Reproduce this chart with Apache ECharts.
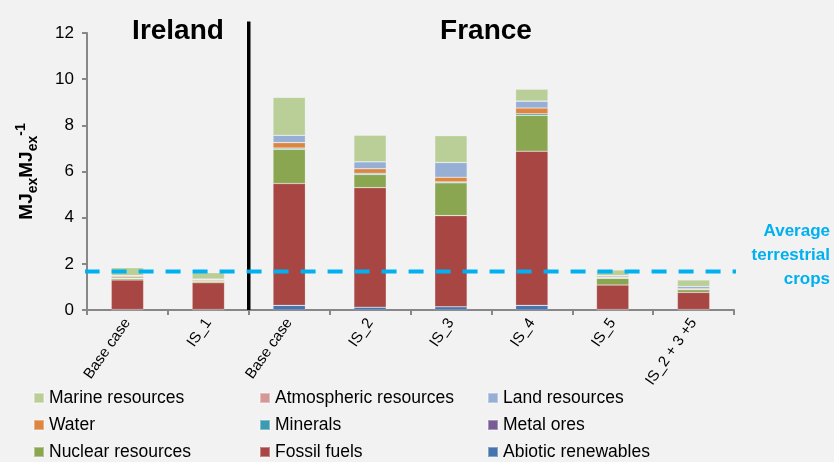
<!DOCTYPE html>
<html>
<head>
<meta charset="utf-8">
<script src="https://cdn.jsdelivr.net/npm/echarts@6/dist/echarts.min.js"></script>
<style>
html,body{margin:0;padding:0;background:#F2F2F2;}
#chart{width:834px;height:462px;}
</style>
</head>
<body>
<div id="chart"></div>
<script>
// ---- data (stack order bottom to top) ----
var categories = ['Base case', 'IS_1', 'Base case', 'IS_2', 'IS_3', 'IS_4', 'IS_5', 'IS_2 + 3 +5'];
var abioticRenewables = [0.02, 0.02, 0.20, 0.12, 0.14, 0.20, 0.02, 0.02];
var fossilFuels       = [1.28, 1.16, 5.28, 5.18, 3.95, 6.68, 1.06, 0.74];
var nuclearResources  = [0.07, 0.07, 1.49, 0.57, 1.42, 1.56, 0.30, 0.12];
var metalOres         = [0.00, 0.00, 0.00, 0.00, 0.00, 0.00, 0.00, 0.00];
var minerals          = [0.01, 0.01, 0.05, 0.05, 0.04, 0.06, 0.01, 0.01];
var water             = [0.06, 0.05, 0.23, 0.20, 0.20, 0.25, 0.04, 0.03];
var landResources     = [0.05, 0.03, 0.32, 0.30, 0.64, 0.30, 0.06, 0.10];
var atmosphericResources = [0.00, 0.00, 0.00, 0.00, 0.00, 0.00, 0.00, 0.00];
var marineResources   = [0.34, 0.28, 1.64, 1.15, 1.16, 0.52, 0.24, 0.28];
var yTicks = [0, 2, 4, 6, 8, 10, 12];
var averageTerrestrialCrops = 1.67;
var regionDivider = 2;        // boundary index between Ireland and France groups
var regionLabels = ['Ireland', 'France'];
var annotationLines = ['Average', 'terrestrial', 'crops'];
// legend layout: rows of names (reading order of the reference legend)
var legendRows = [
  ['Marine resources', 'Atmospheric resources', 'Land resources'],
  ['Water', 'Minerals', 'Metal ores'],
  ['Nuclear resources', 'Fossil fuels', 'Abiotic renewables']
];

var seriesDefs = [
  {name: 'Abiotic renewables', data: abioticRenewables, color: '#4674AE'},
  {name: 'Fossil fuels', data: fossilFuels, color: '#A84643'},
  {name: 'Nuclear resources', data: nuclearResources, color: '#8AA650'},
  {name: 'Metal ores', data: metalOres, color: '#785C98'},
  {name: 'Minerals', data: minerals, color: '#3E9AB0'},
  {name: 'Water', data: water, color: '#DD8641'},
  {name: 'Land resources', data: landResources, color: '#97AED5'},
  {name: 'Atmospheric resources', data: atmosphericResources, color: '#D69896'},
  {name: 'Marine resources', data: marineResources, color: '#BACF97'}
];

var FONT = 'Liberation Sans, Arial, sans-serif';
var chart = echarts.init(document.getElementById('chart'));

var series = seriesDefs.map(function (d) {
  return {
    name: d.name, type: 'bar', stack: 'total', barWidth: '40%',
    data: d.data,
    itemStyle: {color: d.color, borderColor: 'rgba(255,255,255,0.35)', borderWidth: 0.6},
    emphasis: {disabled: true}
  };
});

series.push({
  name: 'divider', type: 'line', xAxisIndex: 1, yAxisIndex: 0,
  data: [[regionDivider, 0], [regionDivider, 12.5]],
  symbol: 'none', clip: false, silent: true,
  lineStyle: {color: '#000', width: 3.5},
  z: 5
});
series.push({
  name: 'avg', type: 'line', xAxisIndex: 1, yAxisIndex: 0,
  data: [[-0.03, averageTerrestrialCrops], [8.05, averageTerrestrialCrops]],
  symbol: 'none', clip: false, silent: true,
  lineStyle: {color: '#00B0F0', width: 4, type: [15, 12]},
  z: 6
});

var colLeft = [33, 259, 487];
var rowTop = [389, 416, 443];
var legends = [];
legendRows.forEach(function (row, r) {
  row.forEach(function (name, c) {
    legends.push({
      left: colLeft[c], top: rowTop[r],
      data: [name], icon: 'rect', itemWidth: 10, itemHeight: 10,
      selectedMode: false, padding: 0,
      textStyle: {fontFamily: FONT, fontSize: 17.5, color: '#000'}
    });
  });
});

var option = {
  backgroundColor: '#F2F2F2',
  animation: false,
  grid: {left: 87, right: 100, top: 33, bottom: 152},
  legend: legends,
  xAxis: [{
    type: 'category', data: categories, boundaryGap: true,
    axisLine: {lineStyle: {color: '#878787', width: 2}},
    axisTick: {show: true, length: 5, lineStyle: {color: '#878787', width: 2}},
    axisLabel: {interval: 0, rotate: 55, fontFamily: FONT, fontSize: 15, color: '#000', margin: 10}
  }, {
    type: 'value', min: 0, max: 8, show: false
  }],
  yAxis: {
    type: 'value', min: yTicks[0], max: yTicks[yTicks.length - 1], interval: 2,
    splitLine: {show: false},
    axisLine: {show: true, lineStyle: {color: '#878787', width: 2}},
    axisTick: {show: true, length: 5, lineStyle: {color: '#878787', width: 2}},
    axisLabel: {fontFamily: FONT, fontSize: 17, color: '#000', margin: 13},
    name: '{m|MJ}{s|ex}{m|MJ}{s|ex}{p|-1}',
    nameLocation: 'middle', nameRotate: 90, nameGap: 47,
    nameTextStyle: {
      rich: {
        m: {fontFamily: FONT, fontSize: 19, fontWeight: 'bold', color: '#000', lineHeight: 26, verticalAlign: 'middle'},
        s: {fontFamily: FONT, fontSize: 14, fontWeight: 'bold', color: '#000', lineHeight: 26, verticalAlign: 'bottom'},
        p: {fontFamily: FONT, fontSize: 14, fontWeight: 'bold', color: '#000', lineHeight: 26, verticalAlign: 'top'}
      }
    }
  },
  graphic: [
    {type: 'text', x: 178, y: 17, style: {text: regionLabels[0], font: 'bold 28px ' + FONT, fill: '#000', align: 'center'}},
    {type: 'text', x: 486, y: 17, style: {text: regionLabels[1], font: 'bold 28px ' + FONT, fill: '#000', align: 'center'}},
    {type: 'text', x: 830, y: 219, style: {text: annotationLines.join('\n'), font: 'bold 17px ' + FONT, lineHeight: 24, fill: '#00B0F0', align: 'right'}}
  ],
  series: series
};
chart.setOption(option);
</script>
</body>
</html>
